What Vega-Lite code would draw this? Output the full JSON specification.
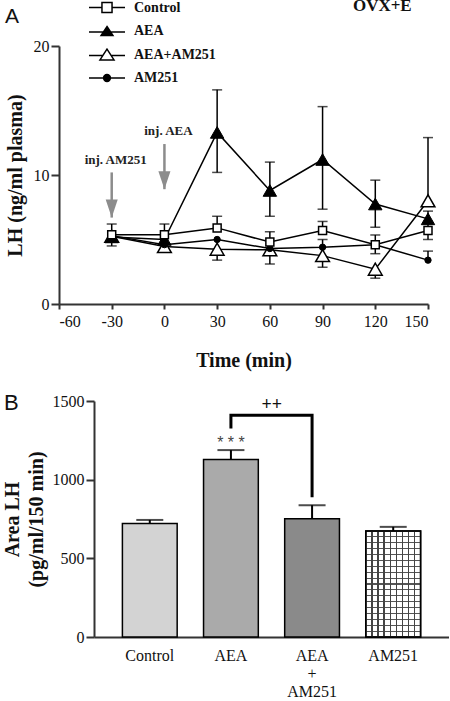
{
  "$schema": "https://vega.github.io/schema/vega-lite/v6.json",
  "padding": {"left": 2, "top": -3, "right": 0, "bottom": 0},
  "config": {
    "view": {"stroke": null},
    "font": "Liberation Serif",
    "axis": {
      "domainColor": "#333", "domainWidth": 2, "tickColor": "#333", "tickWidth": 2,
      "labelColor": "#111", "labelFont": "Liberation Serif", "labelFontSize": 16,
      "titleFont": "Liberation Serif", "titleFontSize": 20, "titleFontWeight": "bold", "titleColor": "#111",
      "grid": false
    },
    "title": {"font": "Liberation Sans", "fontSize": 22, "fontWeight": "normal", "color": "#111", "anchor": "start", "frame": "group"}
  },
  "resolve": {"scale": {"fill": "independent", "shape": "independent"}},
  "datasets": {
    "lh": [
      {"g": "AEA+AM251", "t": -30, "v": 5.25, "hi": null, "lo": null},
      {"g": "AEA+AM251", "t": 0, "v": 4.45, "hi": null, "lo": null},
      {"g": "AEA+AM251", "t": 30, "v": 4.25, "hi": null, "lo": 3.4},
      {"g": "AEA+AM251", "t": 60, "v": 4.2, "hi": null, "lo": 3.1},
      {"g": "AEA+AM251", "t": 90, "v": 3.75, "hi": null, "lo": 2.85},
      {"g": "AEA+AM251", "t": 120, "v": 2.7, "hi": null, "lo": 2.0},
      {"g": "AEA+AM251", "t": 150, "v": 8.0, "hi": 12.9, "lo": null},
      {"g": "AM251", "t": -30, "v": 5.3, "hi": null, "lo": null},
      {"g": "AM251", "t": 0, "v": 4.6, "hi": null, "lo": null},
      {"g": "AM251", "t": 30, "v": 5.0, "hi": null, "lo": null},
      {"g": "AM251", "t": 60, "v": 4.3, "hi": null, "lo": null},
      {"g": "AM251", "t": 90, "v": 4.4, "hi": 5.0, "lo": null},
      {"g": "AM251", "t": 120, "v": 4.6, "hi": null, "lo": 3.9},
      {"g": "AM251", "t": 150, "v": 3.4, "hi": 4.1, "lo": null},
      {"g": "AEA", "t": -30, "v": 5.2, "hi": null, "lo": 4.5},
      {"g": "AEA", "t": 0, "v": 5.0, "hi": null, "lo": null},
      {"g": "AEA", "t": 30, "v": 13.3, "hi": 16.6, "lo": 10.2},
      {"g": "AEA", "t": 60, "v": 8.8, "hi": 11.0, "lo": 6.8},
      {"g": "AEA", "t": 90, "v": 11.2, "hi": 15.3, "lo": 7.35},
      {"g": "AEA", "t": 120, "v": 7.75, "hi": 9.6, "lo": 5.95},
      {"g": "AEA", "t": 150, "v": 6.6, "hi": 7.2, "lo": null},
      {"g": "Control", "t": -30, "v": 5.37, "hi": 6.2, "lo": null},
      {"g": "Control", "t": 0, "v": 5.37, "hi": 6.2, "lo": null},
      {"g": "Control", "t": 30, "v": 5.9, "hi": 6.8, "lo": null},
      {"g": "Control", "t": 60, "v": 4.8, "hi": 5.6, "lo": null},
      {"g": "Control", "t": 90, "v": 5.7, "hi": 6.4, "lo": null},
      {"g": "Control", "t": 120, "v": 4.6, "hi": 5.35, "lo": null},
      {"g": "Control", "t": 150, "v": 5.7, "hi": 6.4, "lo": 5.0}
    ],
    "arrows": [
      {"t": -30, "top": 10.2, "tip": 6.7, "label": "inj. AM251", "ly": 11.2},
      {"t": 0, "top": 12.4, "tip": 8.9, "label": "inj. AEA", "ly": 13.4}
    ],
    "notesA": [
      {"t": 124, "v": 23.1, "label": "OVX+E", "kind": "cond"},
      {"t": -90.7, "v": 21.8, "label": "A", "kind": "panel"}
    ],
    "auc": [
      {"g": "Control", "v": 721, "hi": 744},
      {"g": "AEA", "v": 1128, "hi": 1188},
      {"g": "AEA+AM251", "v": 751, "hi": 838},
      {"g": "AM251", "v": 674, "hi": 700}
    ],
    "bracket": [
      {"g": "AEA", "v": 1326, "o": 1},
      {"g": "AEA", "v": 1410, "o": 2},
      {"g": "AEA+AM251", "v": 1410, "o": 3},
      {"g": "AEA+AM251", "v": 889, "o": 4}
    ],
    "notesB": [
      {"g": "AEA", "v": 1235, "label": "* * *", "kind": "vsControl"},
      {"g": "AEA", "v": 1475, "label": "++", "kind": "vsAEA"}
    ]
  },
  "spacing": 22,
  "vconcat": [
    {
      "width": 369,
      "height": 258,
      "encoding": {
        "x": {"field": "t", "type": "quantitative", "scale": {"domain": [-60, 150], "nice": false, "zero": false},
              "axis": {"values": [-60, -30, 0, 30, 60, 90, 120, 150], "labelExpr": "'' + datum.value", "labelFont": "Liberation Serif", "tickSize": 5, "labelPadding": 4, "title": "Time (min)", "titlePadding": 21}},
        "y": {"field": "v", "type": "quantitative", "scale": {"domain": [0, 20], "nice": false},
              "axis": {"values": [0, 10, 20], "labelExpr": "'' + datum.value", "labelFont": "Liberation Serif", "tickSize": 8, "labelPadding": 2, "title": "LH (ng/ml plasma)", "titlePadding": 8}}
      },
      "layer": [
        {
          "data": {"name": "arrows"},
          "mark": {"type": "rule", "stroke": "#8c8c8c", "strokeWidth": 2.5},
          "encoding": {"y": {"field": "top", "type": "quantitative"}, "y2": {"field": "tip"}}
        },
        {
          "data": {"name": "arrows"},
          "mark": {"type": "point", "shape": "M-0.67,-2L0.67,-2L0,0Z", "size": 324, "filled": true, "fill": "#8c8c8c", "stroke": null, "opacity": 1},
          "encoding": {"y": {"field": "tip", "type": "quantitative"}}
        },
        {
          "data": {"name": "arrows"},
          "mark": {"type": "text", "font": "Liberation Serif", "fontWeight": "bold", "fontSize": 13, "fill": "#222", "dx": 4},
          "encoding": {"y": {"field": "ly", "type": "quantitative"}, "text": {"field": "label"}}
        },
        {
          "data": {"name": "lh"},
          "mark": {"type": "line", "stroke": "black", "strokeWidth": 1.5},
          "encoding": {"detail": {"field": "g"}}
        },
        {
          "data": {"name": "lh"},
          "transform": [{"filter": "isValid(datum.hi)"}],
          "mark": {"type": "rule", "stroke": "black", "strokeWidth": 1.5},
          "encoding": {"y2": {"field": "hi"}}
        },
        {
          "data": {"name": "lh"},
          "transform": [{"filter": "isValid(datum.hi)"}],
          "mark": {"type": "tick", "orient": "horizontal", "size": 10, "thickness": 1.5, "color": "black"},
          "encoding": {"y": {"field": "hi", "type": "quantitative"}}
        },
        {
          "data": {"name": "lh"},
          "transform": [{"filter": "isValid(datum.lo)"}],
          "mark": {"type": "rule", "stroke": "black", "strokeWidth": 1.5},
          "encoding": {"y2": {"field": "lo"}}
        },
        {
          "data": {"name": "lh"},
          "transform": [{"filter": "isValid(datum.lo)"}],
          "mark": {"type": "tick", "orient": "horizontal", "size": 10, "thickness": 1.5, "color": "black"},
          "encoding": {"y": {"field": "lo", "type": "quantitative"}}
        },
        {
          "data": {"name": "lh"},
          "transform": [{"filter": "datum.g == 'AEA+AM251'"}],
          "mark": {"type": "point", "shape": "triangle-up", "size": 190, "filled": true, "fill": "white", "stroke": "black", "strokeWidth": 1.5, "opacity": 1}
        },
        {
          "data": {"name": "lh"},
          "transform": [{"filter": "datum.g == 'AM251'"}],
          "mark": {"type": "point", "shape": "circle", "size": 40, "filled": true, "fill": "black", "stroke": "black", "strokeWidth": 1, "opacity": 1}
        },
        {
          "data": {"name": "lh"},
          "transform": [{"filter": "datum.g == 'AEA'"}],
          "mark": {"type": "point", "shape": "triangle-up", "size": 180, "filled": true, "fill": "black", "stroke": "black", "strokeWidth": 1, "opacity": 1}
        },
        {
          "data": {"name": "lh"},
          "transform": [{"filter": "datum.g == 'Control'"}],
          "mark": {"type": "point", "shape": "square", "size": 64, "filled": true, "fill": "white", "stroke": "black", "strokeWidth": 1.5, "opacity": 1}
        },
        {
          "data": {"name": "lh"},
          "transform": [{"filter": "false"}],
          "mark": {"type": "point", "filled": false, "stroke": "black", "strokeWidth": 1.5, "opacity": 1},
          "encoding": {
            "shape": {"field": "g", "type": "nominal",
              "scale": {"domain": ["Control", "AEA", "AEA+AM251", "AM251"],
                "range": [
                  "M-1,0H-0.28M0.28,0H1M-0.28,-0.28H0.28V0.28H-0.28Z",
                  "M-1,0.05H1M0,-0.25L0.33,0.25L-0.33,0.25ZM0,-0.125L0.206,0.1875L-0.206,0.1875ZM0,0L0.083,0.125L-0.083,0.125Z",
                  "M-1,0.05H-0.227M0.227,0.05H1M0,-0.3L0.39,0.3L-0.39,0.3Z",
                  "M-1,0H1M-0.19,0A0.19,0.19,0,1,1,0.19,0A0.19,0.19,0,1,1,-0.19,0ZM-0.12,0A0.12,0.12,0,1,1,0.12,0A0.12,0.12,0,1,1,-0.12,0ZM-0.05,0A0.05,0.05,0,1,1,0.05,0A0.05,0.05,0,1,1,-0.05,0Z"
                ]},
              "legend": {"title": null, "orient": "none", "legendX": 29, "legendY": -45, "clipHeight": 13, "rowPadding": 8.5, "labelOffset": 8, "symbolSize": 1296, "padding": 0,
                "labelFont": "Liberation Serif", "labelFontWeight": "bold", "labelFontSize": 14, "labelColor": "#111",
                "symbolStrokeWidth": 1.5, "symbolStrokeColor": "black", "symbolFillColor": "white", "symbolOpacity": 1}}
          }
        },
        {
          "data": {"name": "notesA"},
          "transform": [{"filter": "datum.kind == 'cond'"}],
          "mark": {"type": "text", "font": "Liberation Serif", "fontWeight": "bold", "fontSize": 17, "fill": "#111"},
          "encoding": {"text": {"field": "label"}}
        },
        {
          "data": {"name": "notesA"},
          "transform": [{"filter": "datum.kind == 'panel'"}],
          "mark": {"type": "text", "font": "Liberation Sans", "fontSize": 21, "fill": "#111", "align": "left", "baseline": "alphabetic"},
          "encoding": {"text": {"field": "label"}}
        }
      ]
    },
    {
      "width": 390,
      "height": 236,
      "title": {"text": "B", "dx": -55, "dy": 22, "offset": 0},
      "encoding": {
        "x": {"field": "g", "type": "nominal", "sort": ["Control", "AEA", "AEA+AM251", "AM251"],
              "scale": {"domain": ["Control", "AEA", "AEA+AM251", "AM251"], "range": [35, 390], "paddingInner": 0.325, "paddingOuter": 0.35},
              "axis": {"title": null, "labelAngle": 0, "ticks": false, "labelPadding": 10, "labelLineHeight": 18, "labelFont": "Liberation Serif",
                       "labelExpr": "datum.value == 'AEA+AM251' ? ['AEA', '+', 'AM251'] : datum.value"}},
        "y": {"field": "v", "type": "quantitative", "scale": {"domain": [0, 1500], "nice": false},
              "axis": {"values": [0, 500, 1000, 1500], "labelExpr": "'' + datum.value", "labelFont": "Liberation Serif", "tickSize": 8, "labelPadding": 2, "offset": -35,
                       "title": ["Area LH", "(pg/ml/150 min)"], "titleLineHeight": 24, "titlePadding": 6}}
      },
      "layer": [
        {
          "data": {"name": "auc"},
          "mark": {"type": "bar", "stroke": "black", "strokeWidth": 1.5},
          "encoding": {"fill": {"field": "g", "type": "nominal", "scale": {"domain": ["Control", "AEA", "AEA+AM251", "AM251"], "range": ["#d3d3d3", "#aaaaaa", "#8a8a8a", "white"]}, "legend": null}}
        },
        {
          "data": {"name": "auc"},
          "transform": [{"filter": "datum.g == 'AM251'"}],
          "mark": {"type": "bar", "fill": {"gradient": "linear", "x1": 0, "y1": 0, "x2": 0, "y2": 1, "stops": [
            {"offset": 0.050, "color": "rgba(68,68,68,0)"}, {"offset": 0.050, "color": "#555"}, {"offset": 0.061, "color": "#555"}, {"offset": 0.061, "color": "rgba(68,68,68,0)"},
            {"offset": 0.106, "color": "rgba(68,68,68,0)"}, {"offset": 0.106, "color": "#555"}, {"offset": 0.117, "color": "#555"}, {"offset": 0.117, "color": "rgba(68,68,68,0)"},
            {"offset": 0.161, "color": "rgba(68,68,68,0)"}, {"offset": 0.161, "color": "#555"}, {"offset": 0.172, "color": "#555"}, {"offset": 0.172, "color": "rgba(68,68,68,0)"},
            {"offset": 0.217, "color": "rgba(68,68,68,0)"}, {"offset": 0.217, "color": "#555"}, {"offset": 0.228, "color": "#555"}, {"offset": 0.228, "color": "rgba(68,68,68,0)"},
            {"offset": 0.272, "color": "rgba(68,68,68,0)"}, {"offset": 0.272, "color": "#555"}, {"offset": 0.283, "color": "#555"}, {"offset": 0.283, "color": "rgba(68,68,68,0)"},
            {"offset": 0.328, "color": "rgba(68,68,68,0)"}, {"offset": 0.328, "color": "#555"}, {"offset": 0.339, "color": "#555"}, {"offset": 0.339, "color": "rgba(68,68,68,0)"},
            {"offset": 0.383, "color": "rgba(68,68,68,0)"}, {"offset": 0.383, "color": "#555"}, {"offset": 0.394, "color": "#555"}, {"offset": 0.394, "color": "rgba(68,68,68,0)"},
            {"offset": 0.439, "color": "rgba(68,68,68,0)"}, {"offset": 0.439, "color": "#555"}, {"offset": 0.450, "color": "#555"}, {"offset": 0.450, "color": "rgba(68,68,68,0)"},
            {"offset": 0.494, "color": "rgba(68,68,68,0)"}, {"offset": 0.494, "color": "#555"}, {"offset": 0.506, "color": "#555"}, {"offset": 0.506, "color": "rgba(68,68,68,0)"},
            {"offset": 0.550, "color": "rgba(68,68,68,0)"}, {"offset": 0.550, "color": "#555"}, {"offset": 0.561, "color": "#555"}, {"offset": 0.561, "color": "rgba(68,68,68,0)"},
            {"offset": 0.606, "color": "rgba(68,68,68,0)"}, {"offset": 0.606, "color": "#555"}, {"offset": 0.617, "color": "#555"}, {"offset": 0.617, "color": "rgba(68,68,68,0)"},
            {"offset": 0.661, "color": "rgba(68,68,68,0)"}, {"offset": 0.661, "color": "#555"}, {"offset": 0.672, "color": "#555"}, {"offset": 0.672, "color": "rgba(68,68,68,0)"},
            {"offset": 0.717, "color": "rgba(68,68,68,0)"}, {"offset": 0.717, "color": "#555"}, {"offset": 0.728, "color": "#555"}, {"offset": 0.728, "color": "rgba(68,68,68,0)"},
            {"offset": 0.772, "color": "rgba(68,68,68,0)"}, {"offset": 0.772, "color": "#555"}, {"offset": 0.783, "color": "#555"}, {"offset": 0.783, "color": "rgba(68,68,68,0)"},
            {"offset": 0.828, "color": "rgba(68,68,68,0)"}, {"offset": 0.828, "color": "#555"}, {"offset": 0.839, "color": "#555"}, {"offset": 0.839, "color": "rgba(68,68,68,0)"},
            {"offset": 0.883, "color": "rgba(68,68,68,0)"}, {"offset": 0.883, "color": "#555"}, {"offset": 0.894, "color": "#555"}, {"offset": 0.894, "color": "rgba(68,68,68,0)"},
            {"offset": 0.939, "color": "rgba(68,68,68,0)"}, {"offset": 0.939, "color": "#555"}, {"offset": 0.950, "color": "#555"}, {"offset": 0.950, "color": "rgba(68,68,68,0)"}
          ]}}
        },
        {
          "data": {"name": "auc"},
          "transform": [{"filter": "datum.g == 'AM251'"}],
          "mark": {"type": "bar", "fill": {"gradient": "linear", "x1": 0, "y1": 0, "x2": 1, "y2": 0, "stops": [
            {"offset": 0.100, "color": "rgba(68,68,68,0)"}, {"offset": 0.100, "color": "#444"}, {"offset": 0.122, "color": "#444"}, {"offset": 0.122, "color": "rgba(68,68,68,0)"},
            {"offset": 0.211, "color": "rgba(68,68,68,0)"}, {"offset": 0.211, "color": "#444"}, {"offset": 0.233, "color": "#444"}, {"offset": 0.233, "color": "rgba(68,68,68,0)"},
            {"offset": 0.322, "color": "rgba(68,68,68,0)"}, {"offset": 0.322, "color": "#444"}, {"offset": 0.344, "color": "#444"}, {"offset": 0.344, "color": "rgba(68,68,68,0)"},
            {"offset": 0.433, "color": "rgba(68,68,68,0)"}, {"offset": 0.433, "color": "#444"}, {"offset": 0.455, "color": "#444"}, {"offset": 0.455, "color": "rgba(68,68,68,0)"},
            {"offset": 0.545, "color": "rgba(68,68,68,0)"}, {"offset": 0.545, "color": "#444"}, {"offset": 0.567, "color": "#444"}, {"offset": 0.567, "color": "rgba(68,68,68,0)"},
            {"offset": 0.656, "color": "rgba(68,68,68,0)"}, {"offset": 0.656, "color": "#444"}, {"offset": 0.678, "color": "#444"}, {"offset": 0.678, "color": "rgba(68,68,68,0)"},
            {"offset": 0.767, "color": "rgba(68,68,68,0)"}, {"offset": 0.767, "color": "#444"}, {"offset": 0.789, "color": "#444"}, {"offset": 0.789, "color": "rgba(68,68,68,0)"},
            {"offset": 0.878, "color": "rgba(68,68,68,0)"}, {"offset": 0.878, "color": "#444"}, {"offset": 0.900, "color": "#444"}, {"offset": 0.900, "color": "rgba(68,68,68,0)"}
          ]}}
        },
        {
          "data": {"name": "auc"},
          "transform": [{"filter": "datum.g == 'AM251'"}],
          "mark": {"type": "bar", "fill": null, "fillOpacity": 0, "stroke": "black", "strokeWidth": 1.5}
        },
        {
          "data": {"name": "auc"},
          "mark": {"type": "rule", "stroke": "black", "strokeWidth": 2},
          "encoding": {"y2": {"field": "hi"}}
        },
        {
          "data": {"name": "auc"},
          "mark": {"type": "tick", "size": 27, "thickness": 2, "color": "black"},
          "encoding": {"y": {"field": "hi", "type": "quantitative"}}
        },
        {
          "data": {"name": "bracket"},
          "mark": {"type": "line", "stroke": "black", "strokeWidth": 3},
          "encoding": {"order": {"field": "o", "type": "quantitative"}}
        },
        {
          "data": {"name": "notesB"},
          "transform": [{"filter": "datum.kind == 'vsControl'"}],
          "mark": {"type": "text", "font": "Liberation Sans", "fontSize": 16, "fill": "#444"},
          "encoding": {"text": {"field": "label"}}
        },
        {
          "data": {"name": "notesB"},
          "transform": [{"filter": "datum.kind == 'vsAEA'"}],
          "mark": {"type": "text", "font": "Liberation Serif", "fontWeight": "bold", "fontSize": 18, "fill": "#111", "dx": 40.75},
          "encoding": {"text": {"field": "label"}}
        }
      ]
    }
  ]
}
